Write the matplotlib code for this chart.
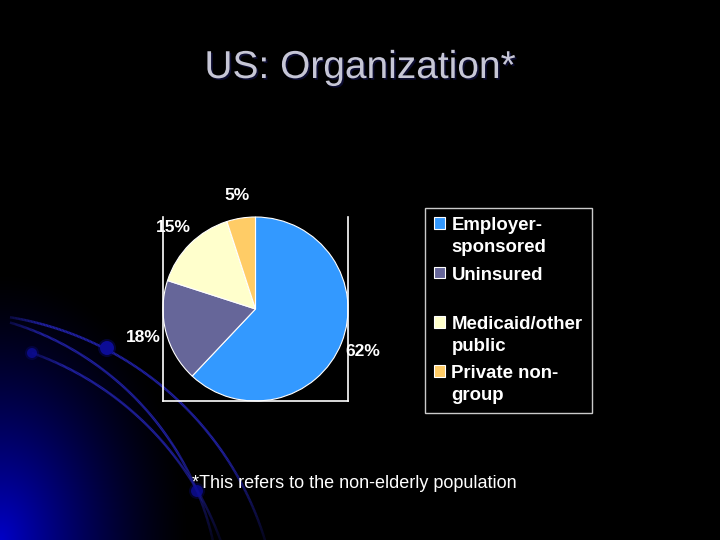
import numpy as np
import matplotlib
matplotlib.use('Agg')
import matplotlib.pyplot as plt
from matplotlib.patches import Circle
from matplotlib.collections import LineCollection
from matplotlib.colors import to_rgb
import matplotlib.patheffects as pe

# Datos del gráfico
categorias = ['Employer-\nsponsored', 'Uninsured\n', 'Medicaid/other\npublic', 'Private non-\ngroup']
valores = [62, 18, 15, 5]
colores = ['#3399FF', '#666699', '#FFFFCC', '#FFCC66']

plt.rcParams['font.family'] = ['Liberation Sans', 'DejaVu Sans']

fig = plt.figure(figsize=(7.2, 5.4), dpi=100)
fig.patch.set_facecolor('black')

# Fondo: degradado azul en la esquina inferior izquierda y arcos decorativos
bg = fig.add_axes([0, 0, 1, 1])
bg.set_xlim(0, 720)
bg.set_ylim(540, 0)
bg.axis('off')
xx, yy = np.meshgrid(np.arange(720), np.arange(540))
d = np.sqrt((xx / 190.0) ** 2 + ((540 - yy) / 270.0) ** 2)
azul = np.clip(1 - d, 0, 1) ** 1.4
img = np.zeros((540, 720, 3))
img[..., 2] = azul * 0.78
bg.imshow(img, extent=(0, 720, 540, 0), aspect='auto', zorder=0)

# arcos: (centro x, centro y, radio, x inicial)
arcos = [(-42, 634, 321, 10), (-75, 605, 295, 10), (-72, 646, 311, 32)]
color_arco = np.array(to_rgb('#2020a0'))
for (cx, cy, r, x0) in arcos:
    t0 = np.arccos((x0 - cx) / r)
    t = np.linspace(t0, 0.0, 300)
    px = cx + r * np.cos(t)
    py = cy - r * np.sin(t)
    puntos = np.column_stack([px, py]).reshape(-1, 1, 2)
    segs = np.concatenate([puntos[:-1], puntos[1:]], axis=1)
    ym = (py[:-1] + py[1:]) / 2
    xm = (px[:-1] + px[1:]) / 2
    alfa = np.clip((560 - ym) / 110, 0.2, 1) * np.clip((xm - x0) / 50 + 0.35, 0, 1)
    cols = np.column_stack([np.tile(color_arco, (len(segs), 1)), alfa])
    bg.add_collection(LineCollection(segs, colors=cols, linewidths=1.8, zorder=1))
for (px, py, pr, a) in [(107, 348, 7, 1.0), (32, 353, 5, 0.8), (197, 491, 6, 0.8)]:
    bg.add_patch(Circle((px, py), pr + 2, color='#0c0c90', alpha=0.35 * a, lw=0, zorder=2))
    bg.add_patch(Circle((px, py), pr, color='#0c0c96', alpha=a, lw=0, zorder=2))

# Título
fig.text(0.5, 1 - 68 / 540, 'US: Organization*', ha='center', va='center',
         fontsize=28, color='#C6C6D6',
         path_effects=[pe.withSimplePatchShadow(offset=(1.2, -1.2), shadow_rgbFace='#0c0c30', alpha=1)])

# Gráfico de pastel
ax = fig.add_axes([163 / 720, 1 - 401 / 540, 185 / 720, 184 / 540])
ax.set_facecolor('none')
wedges, textos, autotextos = ax.pie(valores, colors=colores, startangle=90, counterclock=False,
                                    autopct='%1.0f%%', pctdistance=1.25,
                                    wedgeprops={'edgecolor': 'white', 'linewidth': 0.8},
                                    textprops={'color': 'white', 'fontsize': 12.5, 'fontweight': 'bold'})
ax.set_xlim(-1, 1)
ax.set_ylim(-1, 1)
ax.set_aspect('auto')
ax.set_frame_on(True)
ax.set_xticks([])
ax.set_yticks([])
for lado in ['left', 'right', 'bottom']:
    ax.spines[lado].set_visible(True)
    ax.spines[lado].set_color('white')
    ax.spines[lado].set_linewidth(1.2)
ax.spines['top'].set_visible(False)
for t in autotextos:
    t.set_clip_on(False)

# Leyenda
leg = fig.legend(wedges, categorias, loc='upper left',
                 bbox_to_anchor=(425 / 720, 1 - 208 / 540), borderaxespad=0,
                 frameon=True, fancybox=False, facecolor='black', edgecolor='white',
                 prop={'weight': 'bold', 'size': 13.4}, labelcolor='white',
                 handlelength=0.6, handleheight=0.6, handletextpad=0.32,
                 labelspacing=0.58, borderpad=0.5)
leg.get_frame().set_linewidth(1)
for t in leg.get_texts():
    t.set_linespacing(1.35)
# alinear el cuadro de color con la primera línea del texto
for columna in leg._legend_handle_box.get_children():
    for fila in columna.get_children():
        fila.align = 'top'

# Nota al pie
fig.text(354 / 720, 1 - 483 / 540, '*This refers to the non-elderly population',
         ha='center', va='center', fontsize=13, color='white')

fig.savefig('out.png', dpi=100, facecolor='black')
